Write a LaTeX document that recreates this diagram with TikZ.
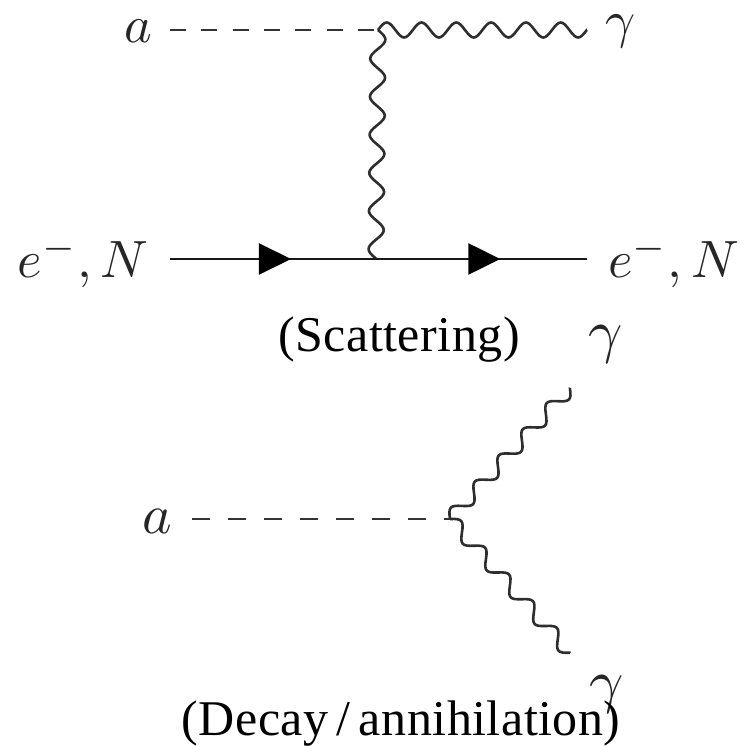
\documentclass[tikz,border=0pt]{standalone}
\usepackage{fontspec}
\setmainfont{Liberation Serif}
\newfontfamily\capfont[LetterSpace=1]{Liberation Serif}
\usetikzlibrary{decorations,decorations.markings,arrows.meta}
\pgfdeclaredecoration{sinewave}{go}{
  \state{go}[switch if less than=\pgfdecorationsegmentlength to final,width=\pgfdecorationsegmentlength]{
    \pgfpathcurveto
      {\pgfpoint{.2122\pgfdecorationsegmentlength}{1.3333\pgfdecorationsegmentamplitude}}
      {\pgfpoint{.2878\pgfdecorationsegmentlength}{1.3333\pgfdecorationsegmentamplitude}}
      {\pgfpoint{.5\pgfdecorationsegmentlength}{0pt}}
    \pgfpathcurveto
      {\pgfpoint{.7122\pgfdecorationsegmentlength}{-1.3333\pgfdecorationsegmentamplitude}}
      {\pgfpoint{.7878\pgfdecorationsegmentlength}{-1.3333\pgfdecorationsegmentamplitude}}
      {\pgfpoint{\pgfdecorationsegmentlength}{0pt}}
  }
  \state{final}{\pgfpathlineto{\pgfpointdecoratedpathlast}}
}
\tikzset{
  lab/.style={inner sep=0pt,scale=5.25,text=black!85},
  alab/.style={inner sep=0pt,scale=5.6,text=black!85},
  glab/.style={inner sep=0pt,scale=6,text=black!85},
  captext/.style={inner sep=0pt,font=\capfont\fontsize{50}{55}\selectfont},
  scalar/.style n args={2}{line width=2.8pt,draw=black!80,dash pattern=on #1 off #2},
  photon/.style={line width=2.6pt,draw=black!82,decorate,decoration={sinewave,segment length=#1,amplitude=7.5pt}},
  stair/.style={line width=2.6pt,draw=black!82,decorate,decoration={sinewave,segment length=#1,amplitude=7pt}},
  fermion/.style={line width=2.6pt,draw=black!90,postaction={decorate},decoration={markings,
    mark=at position 0.29 with {\arrow[black]{Triangle[length=32pt,width=31pt]}},
    mark=at position 0.792 with {\arrow[black]{Triangle[length=32pt,width=31pt]}}}}
}
\begin{document}
\begin{tikzpicture}[x=1pt,y=-1pt]
\useasboundingbox (0,0) rectangle (748,746);
\coordinate (a1) at (170,30);
\coordinate (v1) at (378,30);
\coordinate (g1) at (587,30);
\coordinate (v2) at (376,259);
\coordinate (f1) at (170,259);
\coordinate (f2) at (587,259);
\coordinate (a2) at (192,519);
\coordinate (v3) at (450,519);
\coordinate (g2) at (570,388);
\coordinate (g3) at (570,653);
\node[lab,anchor=base] (la) at (138,43) {$a$};
\node[lab] (lg) at (621,31) {$\gamma$};
\node[lab,anchor=base east] (le1) at (150,278) {$e^-,N$};
\node[lab,anchor=base west] (le2) at (607,278) {$e^-,N$};
\node[captext,anchor=base] (c1) at (399,352) {(Scattering)};
\node[glab] (lg2) at (606,344) {$\gamma$};
\node[alab,anchor=base] (la2) at (157,533) {$a$};
\node[glab] (lg3) at (607,694) {$\gamma$};
\node[captext,anchor=base] (c2) at (401,735) {(Decay\,/\,annihilation)};
\draw[scalar={16pt}{15.3pt}] (a1) -- (v1);
\draw[photon=34.8pt] (v1) -- (g1);
\draw[photon=38.1pt] (v1) -- (v2);
\draw[fermion] (f1) -- (f2);
\draw[scalar={18pt}{18pt}] (a2) -- (v3);
\draw[stair=35.5pt] (v3) -- (g2);
\draw[stair=35.9pt] (v3) -- (g3);
\end{tikzpicture}
\end{document}
